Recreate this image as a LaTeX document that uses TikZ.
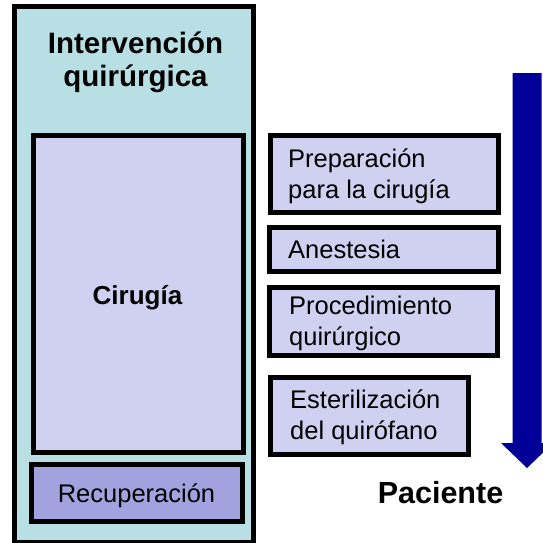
\documentclass[tikz,border=0pt]{standalone}
\usepackage{fontspec}
\setmainfont{Liberation Sans}
\definecolor{outerfill}{RGB}{184,224,228}
\definecolor{boxfill}{RGB}{208,208,240}
\definecolor{recfill}{RGB}{162,162,222}
\definecolor{arrowblue}{RGB}{0,0,153}
\tikzset{
  frame/.style={draw=black, line width=5pt, inner sep=0pt},
  regtext/.style={inner sep=0pt, font=\fontsize{25.5}{31}\selectfont, align=left, anchor=base west},
  boldtext/.style={inner sep=0pt, font=\fontsize{29.5}{33}\selectfont\bfseries, align=center, anchor=base},
}
\begin{document}
\begin{tikzpicture}[x=1pt,y=-1pt]
\useasboundingbox (0,0) rectangle (543,543);
% outer box
\draw[frame, fill=outerfill] (14.5,6.5) rectangle (253,542);
\draw[frame, fill=boxfill] (33,135.5) rectangle (243.5,452.5);
\draw[frame, fill=recfill] (31,464) rectangle (242.5,521.5);
\node[boldtext] (title) at (135.5,86) {Intervención\\quirúrgica};
\node[boldtext, font=\fontsize{26}{31}\selectfont\bfseries] (cir) at (137.5,304) {Cirugía};
\node[regtext, anchor=base] (rec) at (136.5,502) {Recuperación};
% right boxes
\draw[frame, fill=boxfill] (270.5,135.5) rectangle (498.5,212.5);
\draw[frame, fill=boxfill] (269.5,227.5) rectangle (498.5,271.5);
\draw[frame, fill=boxfill] (269.5,287.5) rectangle (497.5,355.5);
\draw[frame, fill=boxfill] (270.5,377.5) rectangle (468,454.5);
\node[regtext] (prep) at (288,198) {Preparación\\para la cirugía};
\node[regtext] (anes) at (288,258) {Anestesia};
\node[regtext] (proc) at (289,345) {Procedimiento\\quirúrgico};
\node[regtext] (est) at (290,439) {Esterilización\\del quirófano};
% arrow
\fill[arrowblue] (512.5,73) -- (541.5,73) -- (541.5,443) -- (553,443) -- (527,468) -- (501,443) -- (512.5,443) -- cycle;
\node[boldtext, font=\fontsize{30.5}{33}\selectfont\bfseries] (pac) at (440.5,503) {Paciente};
\end{tikzpicture}
\end{document}
